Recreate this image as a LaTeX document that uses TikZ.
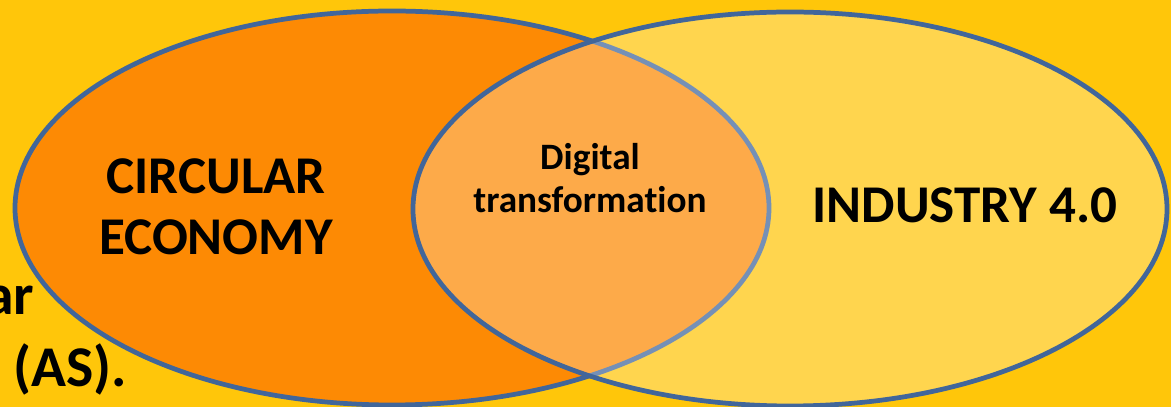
\documentclass[tikz,border=0pt]{standalone}
\usepackage{fontspec}
\setmainfont{Carlito}[Ligatures=NoCommon]
\usetikzlibrary{shapes.geometric}
\definecolor{slidebg}{HTML}{FFC60A}
\definecolor{ceorange}{HTML}{FD8A04}
\definecolor{rimblue}{HTML}{41669A}

\begin{document}
\begin{tikzpicture}[font=\bfseries,set/.style={draw=rimblue,line width=1.35pt,ellipse,inner sep=0pt,minimum width=7.54cm,minimum height=3.94cm},big/.style={align=center,font=\fontsize{15.1}{17.4}\selectfont\bfseries},tail/.style={anchor=base east,inner sep=0pt,font=\fontsize{16.4}{20.5}\selectfont\bfseries}]
\fill[slidebg] (0,0) rectangle (11.71,4.07);
\clip (0,0) rectangle (11.71,4.07);
% slide text running under the left set
\node[tail] (tail1) at (0.35,0.92) {ar};
\node[tail] (tail2) at (1.28,0.20) {s (AS).};
% the two sets, the right one only lightens what lies below
\node[set,fill=ceorange] (ce) at (3.92,1.99) {};
\node[set,fill=white,fill opacity=.28] (ind) at (7.90,1.98) {};
\node[big] (celbl) at (2.16,2.00) {CIRCULAR\\ECONOMY};
\node[big] (indlbl) at (9.65,2.02) {INDUSTRY 4.0};
\node[align=center,font=\fontsize{10.6}{12.4}\selectfont\bfseries] (dt) at (5.90,2.29) {Digital\\transformation};
\end{tikzpicture}
\end{document}
